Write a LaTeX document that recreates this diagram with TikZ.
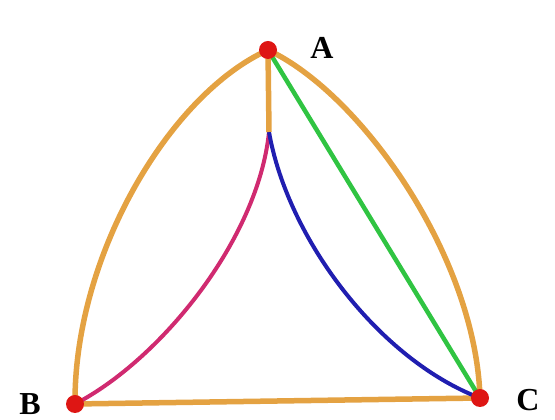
\documentclass[tikz,border=0pt]{standalone}
\usepackage{fontspec}
\setmainfont{Liberation Serif}
\definecolor{arancio}{RGB}{228,162,66}
\definecolor{magenta}{RGB}{208,42,112}
\definecolor{blu}{RGB}{32,30,176}
\definecolor{verde}{RGB}{48,196,66}
\definecolor{rosso}{RGB}{222,22,20}
\begin{document}
\begin{tikzpicture}[x=1pt, y=1pt, every node/.style={font=\fontsize{32}{34}\selectfont\bfseries}]

    \useasboundingbox (0,0) rectangle (555,420);

    % Vertici del triangolo
    \coordinate (A) at (268, 370);
    \coordinate (B) at (75, 16);
    \coordinate (C) at (480, 22);
    % Punto dove si separano le curve interne
    \coordinate (S) at (269, 288);

    % --- LATI ESTERNI (arancio) ---
    \draw[arancio, line width=5.5pt] (A) .. controls (170, 326) and (74, 165) .. (B);
    \draw[arancio, line width=5.5pt] (A) .. controls (362, 326) and (476, 162) .. (C);
    \draw[arancio, line width=5.5pt] (B) -- (C);

    % --- CURVE INTERNE ---
    \draw[magenta, line width=4pt] (S) .. controls (258, 180) and (160, 60) .. (B);
    \draw[blu, line width=4pt] (S) .. controls (288, 180) and (380, 60) .. (C);
    \draw[verde, line width=4.5pt] (A) -- (C);
    \draw[arancio, line width=5.5pt] (A) -- (S);

    % --- VERTICI (punti rossi) ---
    \foreach \v in {A, B, C} {
        \fill[rosso] (\v) circle (9pt);
    }

    % --- ETICHETTE ---
    \node (lA) at (322, 372) {A};
    \node (lB) at (30, 16) {B};
    \node (lC) at (528, 20) {C};

\end{tikzpicture}
\end{document}
